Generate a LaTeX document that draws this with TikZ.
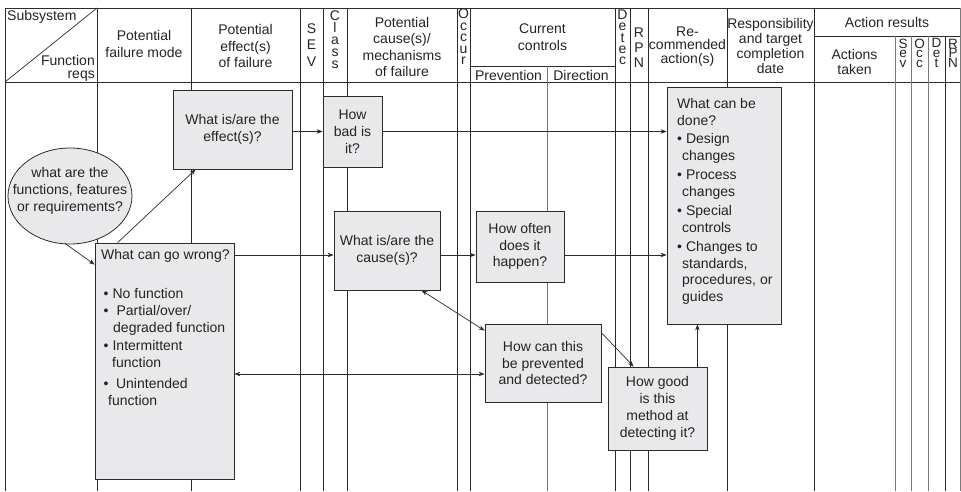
\documentclass[tikz,border=0pt]{standalone}
\usepackage{fontspec}
\setmainfont{Liberation Sans}
\usetikzlibrary{arrows.meta,shapes.geometric,calc}
\definecolor{rule}{HTML}{2B2B2B}
\definecolor{softrule}{HTML}{7A7A7A}
\definecolor{boxfill}{HTML}{E9E9EB}
\definecolor{ink}{HTML}{242424}

\begin{document}
\begin{tikzpicture}[x=1pt,y=-1pt,
  font=\fontsize{14}{16.8}\selectfont, text=ink,
  grid/.style={draw=rule,line width=0.9pt},
  softgrid/.style={draw=softrule,line width=0.9pt},
  qbox/.style={draw=rule,fill=boxfill,line width=0.8pt,inner sep=0pt,align=center},
  hdr/.style={align=center,inner sep=0pt},
  stack/.style={align=center,inner sep=0pt,font=\fontsize{14}{#1}\selectfont},
  tinystack/.style={align=center,inner sep=0pt,font=\fontsize{13.5}{9.6}\selectfont},
  arr/.style={draw=rule,line width=0.7pt,-{Stealth[length=6pt,width=4.5pt]}},
  darr/.style={draw=rule,line width=0.7pt,{Stealth[length=6pt,width=4.5pt]}-{Stealth[length=6pt,width=4.5pt]}},
]
\useasboundingbox (0,0) rectangle (961,491);

% ---------- form grid ----------
\draw[grid] (5,8) -- (961,8);
\draw[grid] (5,82) -- (961,82);
\draw[grid] (470,66) -- (615,66);
\draw[grid] (814,36) -- (961,36);
\foreach \x in {5,97,191,300,323,347,457,470,615,630,648,727,814}
  \draw[grid] (\x,8) -- (\x,491);
\draw[softgrid] (547,66) -- (547,491);
\foreach \x in {895,911,928}
  \draw[softgrid] (\x,36) -- (\x,491);
\draw[grid] (945,36) -- (945,491);
\draw[softgrid] (960.5,8) -- (960.5,491);
\draw[grid,line width=0.7pt] (5,82) -- (97,8);

% ---------- column headings ----------
\node[hdr,anchor=west] (hsub) at (7,17) {Subsystem};
\node[hdr,anchor=east] (hfun) at (95,60) {Function};
\node[hdr,anchor=east] (hreq) at (95,76) {reqs};
\node[hdr] (hmode) at (144,44) {Potential\\failure mode};
\node[hdr] (heff) at (245.5,46) {Potential\\effect(s)\\of failure};
\node[stack=16.5] (hsev) at (311.5,45) {S\\E\\V};
\node[stack=12] (hcls) at (335,40) {C\\l\\a\\s\\s};
\node[stack=16.5] (hcause) at (402,47) {Potential\\cause(s)/\\mechanisms\\of failure};
\node[stack=11.5] (hocc) at (463.5,37) {O\\c\\c\\u\\r};
\node[hdr] (hctrl) at (542.5,37) {Current\\controls};
\node[hdr] (hprev) at (508.5,75) {Prevention};
\node[hdr] (hdir) at (581,75) {Direction};
\node[stack=11.3] (hdet) at (622.5,37.5) {D\\e\\t\\e\\c};
\node[stack=15] (hrpn) at (639,48) {R\\P\\N};
\node[stack=13.5] (hrec) at (687.5,46.5) {Re-\\commended\\action(s)};
\node[stack=15] (hresp) at (770.5,46) {Responsibility\\and target\\completion\\date};
\node[hdr] (hres) at (887,22) {Action results};
\node[stack=15] (htaken) at (854.5,62) {Actions\\taken};
\node[tinystack] (hsev2) at (903,53) {S\\e\\v};
\node[tinystack] (hocc2) at (919.5,53) {O\\c\\c};
\node[tinystack] (hdet2) at (936.5,53) {D\\e\\t};
\node[tinystack] (hrpn2) at (953,53) {R\\P\\N};

% ---------- question boxes ----------
\node[draw=rule,fill=boxfill,line width=0.8pt,ellipse,minimum width=124,minimum height=96,inner sep=0pt] (fn) at (70,196) {};
\node[hdr] (fntext) at (70,191) {what are the\\functions, features\\or requirements?};

\node[qbox,minimum width=139,minimum height=236] (wrong) at (164.5,361) {};
\node[hdr,anchor=west] (wrongq) at (101,256) {What can go wrong?};
\node[align=left,inner sep=0pt,anchor=north west,font=\fontsize{14}{17}\selectfont] (modes) at (103.5,288)
  {\textbullet\hspace{4pt}No function\\[0pt]
   \textbullet\hspace{8pt}Partial/over/\\
   \hspace*{9.5pt}degraded function\\[1pt]
   \textbullet\hspace{4pt}Intermittent\\
   \hspace*{8.5pt}function\\[4pt]
   \textbullet\hspace{7.5pt}Unintended\\
   \hspace*{4.5pt}function};

\node[qbox,minimum width=119,minimum height=79] (eff) at (232.5,129.5) {What is/are the\\effect(s)?};
\node[qbox,minimum width=59,minimum height=71] (bad) at (352.5,131.5) {How\\bad is\\it?};
\node[qbox,minimum width=106,minimum height=79] (cause) at (387,250.5) {What is/are the\\cause(s)?};
\node[qbox,minimum width=88,minimum height=71] (often) at (520,246.5) {How often\\does it\\happen?};
\node[qbox,minimum width=116,minimum height=78] (prev) at (543,363) {How can this\\be prevented\\and detected?};
\node[qbox,minimum width=99,minimum height=83] (good) at (657.5,408.5) {How good\\is this\\method at\\detecting it?};

\node[qbox,minimum width=114,minimum height=237] (done) at (724,205.5) {};
\node[align=left,inner sep=0pt,anchor=north west] (donetext) at (677,98.5)
  {What can be\\
   done?\\[1.5pt]
   \textbullet\hspace{4pt}Design\\
   \hspace*{5pt}changes\\[2pt]
   \textbullet\hspace{4pt}Process\\
   \hspace*{5pt}changes\\[2.5pt]
   \textbullet\hspace{4pt}Special\\
   \hspace*{5pt}controls\\[2pt]
   \textbullet\hspace{4pt}Changes to\\
   \hspace*{5pt}standards,\\
   \hspace*{5pt}procedures, or\\
   \hspace*{5pt}guides};

% ---------- connectors ----------
\coordinate (row2) at (0,255);
\coordinate (row3) at (0,374);
\coordinate (fnfoot) at ($(fn.south)+(-5,-1)$);
\coordinate (wrongin) at ($(wrong.north west)+(0,22)$);
\coordinate (wrongtop) at ($(wrong.north west)+(23,0)$);
\coordinate (effbase) at ($(eff.south west)+(23,0)$);
\coordinate (causefoot) at ($(cause.south west)+(88,0)$);
\coordinate (previn) at ($(prev.north west)+(0,7)$);
\coordinate (prevout) at ($(prev.north east)+(0,9)$);
\coordinate (goodin) at ($(good.north west)+(26,0)$);
\coordinate (goodtop) at ($(good.north east)+(-10,0)$);

\draw[arr] (eff.east |- bad.west) -- (bad.west);
\draw[arr] (bad.east) -- (bad.east -| done.west);
\draw[arr] (fnfoot) -- (wrongin);
\draw[arr] (wrongtop) -- (effbase);
\draw[arr] (wrong.east |- row2) -- (cause.west |- row2);
\draw[arr] (cause.east |- row2) -- (often.west |- row2);
\draw[arr] (often.east |- row2) -- (done.west |- row2);
\draw[darr] (causefoot) -- (previn);
\draw[darr] (wrong.east |- row3) -- (prev.west |- row3);
\draw[arr] (prevout) -- (goodin);
\draw[arr] (goodtop) -- (goodtop |- done.south);
\end{tikzpicture}
\end{document}
